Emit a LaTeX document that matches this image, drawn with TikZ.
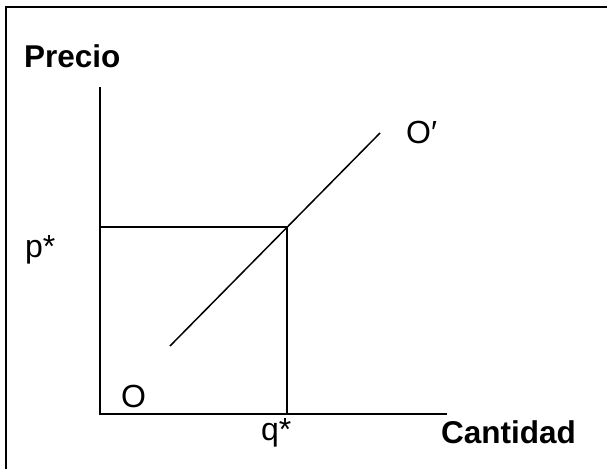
\documentclass[tikz,border=0pt]{standalone}
\usepackage{fontspec}
\setmainfont{Liberation Sans}
\usepackage{tikz}

\begin{document}
\begin{tikzpicture}[
  x=1pt, y=-1pt,
  ax/.style={line width=1.5pt},
  lab/.style={font=\fontsize{32}{38}\selectfont, inner sep=0pt, anchor=base west},
  blab/.style={font=\fontsize{31.5}{37}\selectfont\bfseries, inner sep=0pt, anchor=base west}
]
\useasboundingbox (0,0) rectangle (607,468);
\clip (0,0) rectangle (607,468);
% frame
\draw[line width=2pt] (620,7) -- (6,7) -- (6,480);
% axes
\coordinate (orig) at (100,414);
\coordinate (ytop) at (100,87);
\coordinate (xend) at (447,414);
\draw[ax] (ytop) -- (orig) -- (xend);
% equilibrium
\coordinate (eq) at (287,227);
\draw[ax] (orig |- eq) -- (eq) -- (eq |- orig);
% supply
\coordinate (s0) at (170,346);
\coordinate (s1) at (380,133);
\draw[ax] (s0) -- (s1);
% labels
\node[blab] (precio) at (24,68) {Precio};
\node[blab] (cant) at (441,443) {Cantidad};
\node[lab] (pst) at (25,257) {p*};
\node[lab] (qst) at (261,440) {q*};
\node[lab] (o) at (121,407) {O};
\node[lab] (o1) at (406,143) {O′};
\end{tikzpicture}
\end{document}
